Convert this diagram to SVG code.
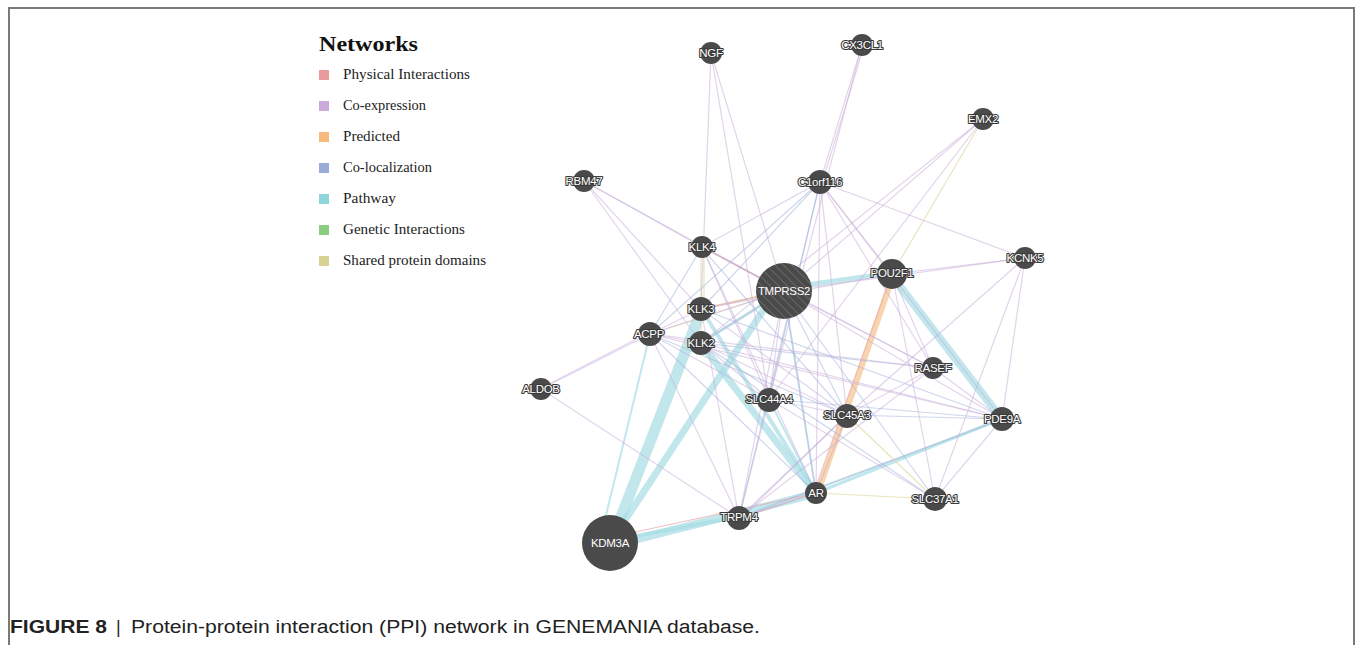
<svg xmlns="http://www.w3.org/2000/svg" width="1356" height="645" viewBox="0 0 1356 645">
<defs>
<pattern id="hatch" patternUnits="userSpaceOnUse" width="6" height="6" patternTransform="rotate(-45)">
<rect width="6" height="6" fill="#4a4a4a"/>
<line x1="0" y1="0" x2="0" y2="6" stroke="#6e6e6e" stroke-width="1.6"/>
</pattern>
</defs>
<style>
.frame{fill:none;stroke:#7a7a7a;stroke-width:2}
.lg{font-family:"Liberation Serif","DejaVu Serif",serif;font-size:14px;fill:#222}
.lgh{font-family:"Liberation Serif","DejaVu Serif",serif;font-size:21px;font-weight:bold;fill:#111}
.node circle{fill:#4a4a4a}
.node text{font-family:"Liberation Sans",Arial,sans-serif;font-size:11.5px;fill:#fff;stroke:#3a3a3a;stroke-width:2.2;stroke-linejoin:round;paint-order:stroke;text-anchor:middle;dominant-baseline:central;letter-spacing:-0.3px}
.big text{stroke:none;font-size:11.5px}
.e line{fill:none;stroke-linecap:round}
.cx{stroke:#c6acd8;stroke-width:1.2;stroke-opacity:0.5}
.cl{stroke:#9fb0dc;stroke-width:1.2;stroke-opacity:0.5}
.pw{stroke:#a6dde6;stroke-opacity:0.7}
.pr{stroke:#f7c794;stroke-opacity:0.75}
.ph{stroke:#eaa8ac;stroke-width:1.1;stroke-opacity:0.7}
.sd{stroke:#ded8a4;stroke-width:1.2;stroke-opacity:0.7}
.cap{font-family:"Liberation Sans",Arial,sans-serif;font-size:18px;fill:#222}
</style>
<rect width="1356" height="645" fill="#fff"/>
<path class="frame" d="M9 645 V8 H1354 V645"/>

<g id="legend">
<text class="lgh" x="319" y="51" textLength="99" lengthAdjust="spacingAndGlyphs">Networks</text>
<rect x="319" y="70" width="10" height="10" fill="#e99a9a"/>
<text class="lg" x="343" y="79" textLength="127" lengthAdjust="spacingAndGlyphs">Physical Interactions</text>
<rect x="319" y="101" width="10" height="10" fill="#c9aad8"/>
<text class="lg" x="343" y="110" textLength="83" lengthAdjust="spacingAndGlyphs">Co-expression</text>
<rect x="319" y="132" width="10" height="10" fill="#f6bb7c"/>
<text class="lg" x="343" y="141" textLength="57" lengthAdjust="spacingAndGlyphs">Predicted</text>
<rect x="319" y="163" width="10" height="10" fill="#9aabd8"/>
<text class="lg" x="343" y="172" textLength="89" lengthAdjust="spacingAndGlyphs">Co-localization</text>
<rect x="319" y="194" width="10" height="10" fill="#90d4dc"/>
<text class="lg" x="343" y="203" textLength="53" lengthAdjust="spacingAndGlyphs">Pathway</text>
<rect x="319" y="225" width="10" height="10" fill="#8ccc80"/>
<text class="lg" x="343" y="234" textLength="122" lengthAdjust="spacingAndGlyphs">Genetic Interactions</text>
<rect x="319" y="256" width="10" height="10" fill="#d9d194"/>
<text class="lg" x="343" y="265" textLength="143" lengthAdjust="spacingAndGlyphs">Shared protein domains</text>
</g>

<g id="connectors" class="e">
<!-- pathway thick -->
<line class="pw" stroke-width="11" x1="612" y1="540" x2="701" y2="311"/>
<line class="pw" stroke-width="7" x1="612" y1="540" x2="770" y2="300"/>
<line class="pw" stroke-width="8" x1="614" y1="545" x2="814" y2="494"/>
<line class="pw" stroke-width="4" x1="614" y1="540" x2="738" y2="517"/>
<line class="pw" stroke-width="8" x1="892" y1="276" x2="1001" y2="418"/>
<line class="pw" stroke-width="7" x1="702" y1="345" x2="815" y2="492"/>
<line class="pw" stroke-width="4" x1="702" y1="310" x2="815" y2="492"/>
<line class="pw" stroke-width="5" x1="784" y1="288" x2="892" y2="273"/>
<line class="pw" stroke-width="3" x1="816" y1="493" x2="1001" y2="419"/>
<line class="pw" stroke-width="2" x1="740" y1="517" x2="1001" y2="420"/>
<line class="pw" stroke-width="2" x1="650" y1="334" x2="600" y2="540"/>
<line class="pw" stroke-width="2" x1="784" y1="291" x2="816" y2="493"/>
<line class="pw" stroke-width="2" x1="769" y1="399" x2="816" y2="493"/>
<line class="pw" stroke-width="3" x1="784" y1="291" x2="701" y2="343"/>
<!-- predicted -->
<line class="pr" stroke-width="6" x1="893" y1="276" x2="818" y2="492"/>
<line class="pr" stroke-width="2" x1="784" y1="291" x2="701" y2="309"/>
<line class="pr" stroke-width="1.5" x1="784" y1="291" x2="702" y2="247"/>
<!-- physical -->
<line class="ph" x1="891" y1="276" x2="814" y2="492"/>
<line class="ph" x1="612" y1="537" x2="816" y2="493"/>
<line class="ph" x1="740" y1="518" x2="816" y2="493"/>
<!-- shared domains -->
<line class="sd" stroke-width="3" x1="701" y1="247" x2="701" y2="343"/>
<line class="sd" stroke-width="2" x1="704" y1="247" x2="704" y2="309"/>
<line class="sd" x1="983" y1="119" x2="892" y2="274"/>
<line class="sd" x1="847" y1="415" x2="935" y2="499"/>
<line class="sd" x1="816" y1="493" x2="935" y2="499"/>
<line class="sd" x1="784" y1="291" x2="650" y2="334"/>
<!-- co-localization -->
<line class="cl" x1="820" y1="182" x2="701" y2="309"/>
<line class="cl" x1="820" y1="182" x2="650" y2="334"/>
<line class="cl" x1="820" y1="182" x2="739" y2="518"/>
<line class="cl" x1="820" y1="182" x2="769" y2="399"/>
<line class="cl" x1="784" y1="291" x2="935" y2="499"/>
<line class="cl" x1="784" y1="291" x2="847" y2="415"/>
<line class="cl" x1="701" y1="309" x2="1002" y2="419"/>
<line class="cl" x1="701" y1="343" x2="933" y2="368"/>
<line class="cl" x1="650" y1="334" x2="816" y2="493"/>
<line class="cl" x1="769" y1="399" x2="1002" y2="419"/>
<line class="cl" x1="847" y1="415" x2="1002" y2="419"/>
<line class="cl" x1="701" y1="247" x2="847" y2="415"/>
<line class="cl" x1="702" y1="247" x2="650" y2="334"/>
<line class="cl" x1="701" y1="343" x2="935" y2="499"/>
<line class="cl" x1="650" y1="334" x2="847" y2="415"/>
<!-- co-expression -->
<line class="cx" x1="711" y1="53" x2="701" y2="309"/>
<line class="cx" x1="711" y1="53" x2="769" y2="399"/>
<line class="cx" x1="711" y1="53" x2="784" y2="291"/>
<line class="cx" x1="862" y1="45" x2="820" y2="182"/>
<line class="cx" x1="864" y1="46" x2="822" y2="183"/>
<line class="cx" x1="862" y1="45" x2="769" y2="399"/>
<line class="cx" x1="983" y1="119" x2="784" y2="291"/>
<line class="cx" x1="983" y1="119" x2="769" y2="399"/>
<line class="cx" x1="983" y1="119" x2="701" y2="343"/>
<line class="cx" x1="584" y1="181" x2="702" y2="247"/>
<line class="cx" x1="584" y1="181" x2="701" y2="309"/>
<line class="cx" x1="584" y1="181" x2="784" y2="291"/>
<line class="cx" x1="584" y1="181" x2="701" y2="343"/>
<line class="cx" x1="820" y1="182" x2="702" y2="247"/>
<line class="cx" x1="820" y1="182" x2="1025" y2="258"/>
<line class="cx" x1="820" y1="182" x2="892" y2="274"/>
<line class="cx" x1="820" y1="182" x2="933" y2="368"/>
<line class="cx" x1="820" y1="182" x2="847" y2="415"/>
<line class="cx" x1="820" y1="182" x2="816" y2="493"/>
<line class="cx" x1="820" y1="182" x2="1002" y2="419"/>
<line class="cx" x1="1025" y1="258" x2="784" y2="291"/>
<line class="cx" x1="1025" y1="258" x2="892" y2="274"/>
<line class="cx" x1="1025" y1="258" x2="1002" y2="419"/>
<line class="cx" x1="1025" y1="258" x2="935" y2="499"/>
<line class="cx" x1="1025" y1="258" x2="847" y2="415"/>
<line class="cx" x1="784" y1="291" x2="702" y2="247"/>
<line class="cx" x1="784" y1="291" x2="701" y2="309"/>
<line class="cx" x1="784" y1="291" x2="701" y2="343"/>
<line class="cx" x1="784" y1="291" x2="650" y2="334"/>
<line class="cx" x1="784" y1="291" x2="769" y2="399"/>
<line class="cx" x1="784" y1="291" x2="933" y2="368"/>
<line class="cx" x1="784" y1="291" x2="1002" y2="419"/>
<line class="cx" x1="784" y1="291" x2="739" y2="518"/>
<line class="cx" x1="784" y1="291" x2="816" y2="493"/>
<line class="cx" x1="702" y1="247" x2="933" y2="368"/>
<line class="cx" x1="702" y1="247" x2="816" y2="493"/>
<line class="cx" x1="702" y1="247" x2="769" y2="399"/>
<line class="cx" x1="650" y1="334" x2="701" y2="309"/>
<line class="cx" x1="650" y1="334" x2="701" y2="343"/>
<line class="cx" x1="650" y1="334" x2="769" y2="399"/>
<line class="cx" x1="650" y1="334" x2="541" y2="389"/>
<line class="cx" x1="650" y1="332" x2="543" y2="387"/>
<line class="cx" x1="650" y1="334" x2="739" y2="518"/>
<line class="cx" x1="650" y1="334" x2="1002" y2="419"/>
<line class="cx" x1="650" y1="334" x2="933" y2="368"/>
<line class="cx" x1="541" y1="389" x2="739" y2="518"/>
<line class="cx" x1="701" y1="343" x2="769" y2="399"/>
<line class="cx" x1="701" y1="343" x2="847" y2="415"/>
<line class="cx" x1="701" y1="343" x2="1002" y2="419"/>
<line class="cx" x1="701" y1="309" x2="847" y2="415"/>
<line class="cx" x1="701" y1="309" x2="739" y2="518"/>
<line class="cx" x1="769" y1="399" x2="847" y2="415"/>
<line class="cx" x1="769" y1="399" x2="739" y2="518"/>
<line class="cx" x1="847" y1="415" x2="816" y2="493"/>
<line class="cx" x1="847" y1="415" x2="739" y2="518"/>
<line class="cx" x1="847" y1="415" x2="933" y2="368"/>
<line class="cx" x1="933" y1="368" x2="1002" y2="419"/>
<line class="cx" x1="933" y1="368" x2="739" y2="518"/>
<line class="cx" x1="892" y1="274" x2="933" y2="368"/>
<line class="cx" x1="892" y1="274" x2="701" y2="309"/>
<line class="cx" x1="1002" y1="419" x2="935" y2="499"/>
<line class="cx" x1="1002" y1="419" x2="739" y2="518"/>
<line class="cx" x1="892" y1="274" x2="935" y2="499"/>
<line class="cx" x1="816" y1="493" x2="739" y2="518"/>
<line class="cx" x1="847" y1="415" x2="741" y2="518"/>
<line class="cx" x1="769" y1="399" x2="935" y2="499"/>
</g>

<g id="NGF" class="node"><circle cx="711" cy="53" r="11"/><text x="711" y="53">NGF</text></g>
<g id="CX3CL1" class="node"><circle cx="862" cy="45" r="11"/><text x="862" y="45">CX3CL1</text></g>
<g id="EMX2" class="node"><circle cx="983" cy="119" r="11"/><text x="983" y="119">EMX2</text></g>
<g id="RBM47" class="node"><circle cx="584" cy="181" r="11"/><text x="584" y="181">RBM47</text></g>
<g id="C1orf116" class="node"><circle cx="820" cy="182" r="12"/><text x="820" y="182">C1orf116</text></g>
<g id="KLK4" class="node"><circle cx="702" cy="247" r="11"/><text x="702" y="247">KLK4</text></g>
<g id="KCNK5" class="node"><circle cx="1025" cy="258" r="11"/><text x="1025" y="258">KCNK5</text></g>
<g id="TMPRSS2" class="node big"><circle cx="784" cy="291" r="28" style="fill:url(#hatch)"/><text x="784" y="291">TMPRSS2</text></g>
<g id="POU2F1" class="node"><circle cx="892" cy="274" r="15"/><text x="892" y="273">POU2F1</text></g>
<g id="KLK3" class="node"><circle cx="701" cy="309" r="12"/><text x="701" y="309">KLK3</text></g>
<g id="ACPP" class="node"><circle cx="650" cy="334" r="12"/><text x="649" y="334">ACPP</text></g>
<g id="KLK2" class="node"><circle cx="701" cy="343" r="12"/><text x="701" y="343">KLK2</text></g>
<g id="RASEF" class="node"><circle cx="933" cy="368" r="11"/><text x="933" y="368">RASEF</text></g>
<g id="ALDOB" class="node"><circle cx="541" cy="389" r="11"/><text x="541" y="389">ALDOB</text></g>
<g id="SLC44A4" class="node"><circle cx="769" cy="400" r="12"/><text x="769" y="399">SLC44A4</text></g>
<g id="SLC45A3" class="node"><circle cx="847" cy="416" r="12"/><text x="847" y="415">SLC45A3</text></g>
<g id="PDE9A" class="node"><circle cx="1002" cy="419" r="12"/><text x="1002" y="419">PDE9A</text></g>
<g id="AR" class="node"><circle cx="816" cy="493" r="11"/><text x="816" y="493">AR</text></g>
<g id="SLC37A1" class="node"><circle cx="935" cy="499" r="12"/><text x="935" y="499">SLC37A1</text></g>
<g id="TRPM4" class="node"><circle cx="739" cy="518" r="12"/><text x="739" y="517">TRPM4</text></g>
<g id="KDM3A" class="node big"><circle cx="610" cy="543" r="28"/><text x="610" y="543">KDM3A</text></g>

<g id="caption">
<text class="cap" x="10" y="633" font-weight="bold" textLength="97" lengthAdjust="spacingAndGlyphs">FIGURE 8</text>
<text class="cap" x="116" y="633">|</text>
<text class="cap" x="131" y="633" textLength="629" lengthAdjust="spacingAndGlyphs">Protein-protein interaction (PPI) network in GENEMANIA database.</text>
</g>
</svg>
